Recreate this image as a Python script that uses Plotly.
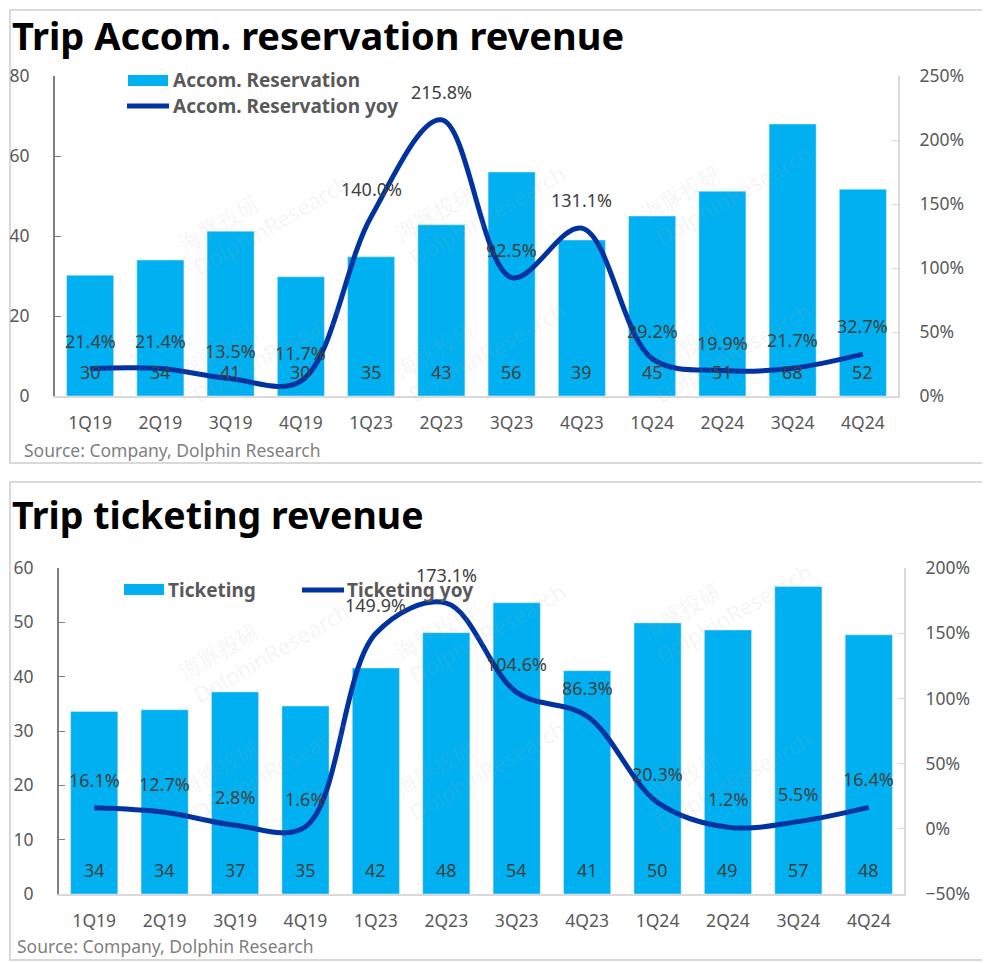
import plotly.graph_objects as go

quarters = ["1Q19", "2Q19", "3Q19", "4Q19", "1Q23", "2Q23",
            "3Q23", "4Q23", "1Q24", "2Q24", "3Q24", "4Q24"]

# Accommodation reservation revenue (bar) and yoy growth (line, %)
accom_revenue = [30.2, 34.0, 41.2, 29.8, 34.8, 42.8, 56.0, 39.0, 45.0, 51.2, 68.0, 51.7]
accom_yoy = [21.4, 21.4, 13.5, 11.7, 140.0, 215.8, 92.5, 131.1, 29.2, 19.9, 21.7, 32.7]

# Transportation ticketing revenue (bar) and yoy growth (line, %)
ticket_revenue = [33.6, 33.9, 37.2, 34.6, 41.6, 48.1, 53.6, 41.1, 49.9, 48.6, 56.6, 47.7]
ticket_yoy = [16.1, 12.7, 2.8, 1.6, 149.9, 173.1, 104.6, 86.3, 20.3, 1.2, 5.5, 16.4]

W, H = 990, 963
OFF = 8  # page body margin: the figure starts 8px in from the window corner
FONT = "Noto Sans"
BAR_COLOR = "#00B0F0"
LINE_COLOR = "#0033A0"
TEXT_COLOR = "#404040"
TICK_COLOR = "#595959"


def PX(x):
    """screen pixel column -> paper x"""
    return min(max((x - OFF) / W, 0.002), 0.998)


def PY(y):
    """screen pixel row -> paper y"""
    return min(max(1 - (y - OFF) / H, 0.002), 0.998)


fig = go.Figure()

# --- top chart ---
fig.add_trace(go.Bar(x=quarters, y=accom_revenue, name="Accom. Reservation",
                     marker_color=BAR_COLOR, xaxis="x", yaxis="y"))
fig.add_trace(go.Scatter(x=quarters, y=accom_yoy, name="Accom. Reservation yoy", mode="lines",
                         line=dict(color=LINE_COLOR, width=5, shape="spline", smoothing=1.0),
                         xaxis="x", yaxis="y2"))

# --- bottom chart ---
fig.add_trace(go.Bar(x=quarters, y=ticket_revenue, name="Ticketing",
                     marker_color=BAR_COLOR, xaxis="x3", yaxis="y3"))
fig.add_trace(go.Scatter(x=quarters, y=ticket_yoy, name="Ticketing yoy", mode="lines",
                         line=dict(color=LINE_COLOR, width=5, shape="spline", smoothing=1.0),
                         xaxis="x3", yaxis="y4"))

annotations = []
lab_font = dict(size=18, color=TEXT_COLOR)

# value labels
for q, v in zip(quarters, accom_revenue):
    annotations.append(dict(x=q, y=0, xref="x", yref="y", text=f"{v:.0f}", showarrow=False,
                            yshift=24, font=lab_font))
for q, v in zip(quarters, accom_yoy):
    annotations.append(dict(x=q, y=v, xref="x", yref="y2", text=f"{v:.1f}%", showarrow=False,
                            yshift=28, font=lab_font))
for q, v in zip(quarters, ticket_revenue):
    annotations.append(dict(x=q, y=0, xref="x3", yref="y3", text=f"{v:.0f}", showarrow=False,
                            yshift=24, font=lab_font))
for q, v in zip(quarters, ticket_yoy):
    annotations.append(dict(x=q, y=v, xref="x3", yref="y4", text=f"{v:.1f}%", showarrow=False,
                            yshift=28, font=lab_font))


def paper_text(x, y, text, size, color, bold=False):
    return dict(x=PX(x), y=PY(y), xref="paper", yref="paper", xanchor="left", yanchor="middle",
                text=f"<b>{text}</b>" if bold else text, showarrow=False,
                font=dict(size=size, color=color))


# titles, sources, legends
annotations += [
    paper_text(9, 35, "Trip Accom. reservation revenue", 38, "#000000", bold=True),
    paper_text(5, 514, "Trip ticketing revenue", 37.5, "#000000", bold=True),
    paper_text(22, 450, "Source: Company, Dolphin Research", 17.5, "#7F7F7F"),
    paper_text(15, 946, "Source: Company, Dolphin Research", 17.5, "#7F7F7F"),
    paper_text(171, 80, "Accom. Reservation", 19, TICK_COLOR, bold=True),
    paper_text(171, 106, "Accom. Reservation yoy", 19, TICK_COLOR, bold=True),
    paper_text(166, 590, "Ticketing", 19, TICK_COLOR, bold=True),
    paper_text(345, 590, "Ticketing yoy", 19, TICK_COLOR, bold=True),
]

# faint watermarks
for wx, wy in [(170, 140), (480, 130), (820, 110), (170, 340), (480, 340), (820, 340),
               (170, 640), (480, 620), (820, 600), (170, 830), (480, 830), (820, 840)]:
    annotations.append(dict(x=PX(wx), y=PY(wy), xref="paper", yref="paper", showarrow=False,
                            text="海豚投研<br>DolphinResearch", textangle=-30, align="left",
                            font=dict(size=22, color="rgba(170,170,170,0.13)")))

shapes = [
    dict(type="rect", xref="paper", yref="paper", x0=PX(2), x1=PX(986), y0=PY(2), y1=PY(463),
         line=dict(color="#D9D9D9", width=2), layer="below"),
    dict(type="rect", xref="paper", yref="paper", x0=PX(2), x1=PX(986), y0=PY(482), y1=PY(960),
         line=dict(color="#D9D9D9", width=2), layer="below"),
    # legend keys
    dict(type="rect", xref="paper", yref="paper", x0=PX(128), x1=PX(168), y0=PY(86), y1=PY(75),
         fillcolor=BAR_COLOR, line=dict(width=0)),
    dict(type="line", xref="paper", yref="paper", x0=PX(127), x1=PX(169), y0=PY(106), y1=PY(106),
         line=dict(color=LINE_COLOR, width=5)),
    dict(type="rect", xref="paper", yref="paper", x0=PX(124), x1=PX(164), y0=PY(595), y1=PY(584),
         fillcolor=BAR_COLOR, line=dict(width=0)),
    dict(type="line", xref="paper", yref="paper", x0=PX(302), x1=PX(344), y0=PY(590), y1=PY(590),
         line=dict(color=LINE_COLOR, width=5)),
]

axis_font = dict(size=17.5, color=TICK_COLOR)
x_common = dict(type="category", showgrid=False, showline=True, linecolor="#D9D9D9", linewidth=2,
                ticks="", tickfont=axis_font, ticklabelstandoff=10, zeroline=False,
                automargin=False)
yl_common = dict(showgrid=False, showline=True, linecolor="#7F7F7F", linewidth=2, ticks="inside",
                 ticklen=6, tickcolor="#7F7F7F", tickfont=axis_font, zeroline=False,
                 ticklabelstandoff=20, automargin=False)
yr_common = dict(showgrid=False, showline=True, linecolor="#D9D9D9", linewidth=2, ticks="inside",
                 ticklen=6, tickcolor="#D9D9D9", tickfont=axis_font, zeroline=False,
                 ticksuffix="%", side="right", ticklabelstandoff=16, automargin=False)

fig.update_layout(
    width=W, height=H,
    margin=dict(l=0, r=0, t=0, b=0, autoexpand=False),
    paper_bgcolor="white", plot_bgcolor="rgba(0,0,0,0)",
    font=dict(family=FONT, color=TICK_COLOR),
    bargap=0.33,
    showlegend=False,
    xaxis=dict(domain=[PX(55), PX(898)], anchor="y", **x_common),
    yaxis=dict(domain=[PY(396), PY(76)], anchor="x", range=[0, 80], dtick=20, **yl_common),
    yaxis2=dict(overlaying="y", anchor="x", range=[0, 250], dtick=50, **yr_common),
    xaxis3=dict(domain=[PX(59), PX(904)], anchor="y3", **x_common),
    yaxis3=dict(domain=[PY(894), PY(568)], anchor="x3", range=[0, 60], dtick=10, **yl_common),
    yaxis4=dict(overlaying="y3", anchor="x3", range=[-50, 200], dtick=50, **yr_common),
    annotations=annotations,
    shapes=shapes,
)

fig.write_html("out.html")
